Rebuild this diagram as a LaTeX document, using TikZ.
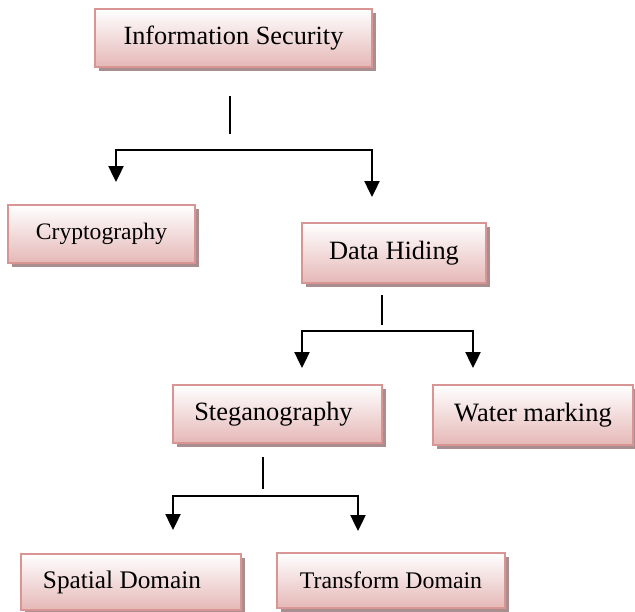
\documentclass[tikz,border=0pt]{standalone}
\usepackage{fontspec}
\setmainfont{Liberation Serif}
\usetikzlibrary{arrows.meta,shadows}
\definecolor{boxborder}{HTML}{D99594}
\definecolor{boxbottom}{HTML}{E5B8B7}
\definecolor{boxshadow}{HTML}{A88E8E}
\tikzset{
  boxnode/.style={rectangle, draw=boxborder, line width=2pt,
    top color=white, bottom color=boxbottom, inner sep=0pt,
    drop shadow={shadow xshift=4pt, shadow yshift=-4pt, fill=boxshadow, opacity=1}},
  barline/.style={line width=2.4pt, -{Triangle[width=15pt,length=16pt]}},
  stemline/.style={line width=1.4pt},
}
\newcommand{\fs}[1]{\fontsize{#1}{#1}\selectfont}
\begin{document}
\begin{tikzpicture}[x=1pt, y=-1pt]
\useasboundingbox (0,0) rectangle (635,611);
% boxes
\node[boxnode, minimum width=277pt, minimum height=58pt] (info) at (233.5,38) {\fs{26.3}Information Security};
\node[boxnode, minimum width=187pt, minimum height=58pt] (crypto) at (101.5,234) {\fs{23.6}Cryptography};
\node[boxnode, minimum width=184pt, minimum height=60pt] (data) at (394,253) {\fs{26.4}Data Hiding};
\node[boxnode, minimum width=209pt, minimum height=58pt] (steg) at (277.5,414) {\fs{26.4}\hspace*{-8pt}Steganography};
\node[boxnode, minimum width=200pt, minimum height=60pt] (water) at (533,415) {\fs{26.5}Water marking};
\node[boxnode, minimum width=220pt, minimum height=56pt] (spatial) at (131,582) {\fs{25.3}\hspace*{-18pt}Spatial Domain};
\node[boxnode, minimum width=228pt, minimum height=55pt] (transform) at (391,580.5) {\fs{23.8}Transform Domain};
% level 1 connectors
\coordinate (s1a) at (230,96);
\coordinate (s1b) at (230,134);
\coordinate (j1) at (230,150);
\coordinate (t1a) at (116,182);
\coordinate (t1b) at (372,197);
\draw[stemline] (s1a) -- (s1b);
\draw[barline] (j1) -| (t1a);
\draw[barline] (j1) -| (t1b);
% level 2 connectors
\coordinate (s2a) at (382,295);
\coordinate (s2b) at (382,325);
\coordinate (j2) at (382,331);
\coordinate (t2a) at (302,368);
\coordinate (t2b) at (473,368);
\draw[stemline] (s2a) -- (s2b);
\draw[barline] (j2) -| (t2a);
\draw[barline] (j2) -| (t2b);
% level 3 connectors
\coordinate (s3a) at (263,457);
\coordinate (s3b) at (263,489);
\coordinate (j3) at (263,496);
\coordinate (t3a) at (173,530);
\coordinate (t3b) at (358,531);
\draw[stemline] (s3a) -- (s3b);
\draw[barline] (j3) -| (t3a);
\draw[barline] (j3) -| (t3b);
\end{tikzpicture}
\end{document}
